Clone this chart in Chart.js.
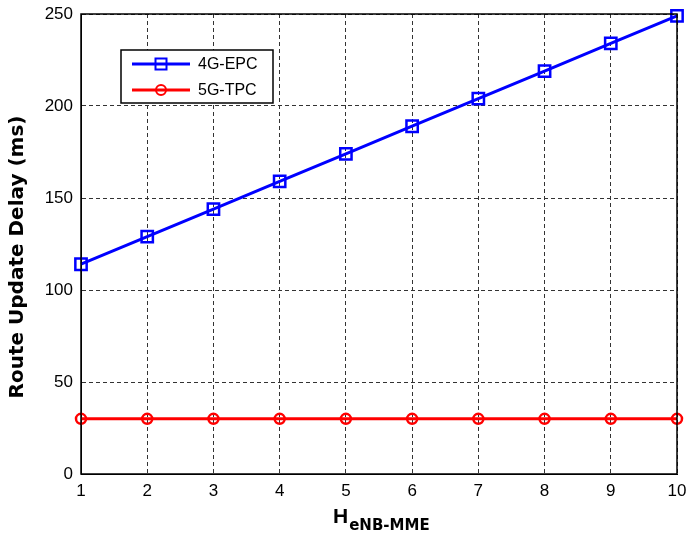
<!DOCTYPE html>
<html><head><meta charset="utf-8">
<script src="https://cdn.jsdelivr.net/npm/chart.js@4.4.1/dist/chart.umd.min.js"></script>
<style>html,body{margin:0;padding:0;background:#fff;}#wrap{width:686px;height:534px;position:relative;}</style>
</head><body><div id="wrap"><canvas id="c" width="686" height="534"></canvas></div>
<script>
const categories = [1,2,3,4,5,6,7,8,9,10];
const epc4g = [114,129,144,159,174,189,204,219,234,249];
const tpc5g = [30,30,30,30,30,30,30,30,30,30];
const yTicks = [0,50,100,150,200,250];
const seriesNames = ['4G-EPC','5G-TPC'];
const yTitle = 'Route Update Delay (ms)';
const xTitleMain = 'H';
const xTitleSub = 'eNB-MME';

const FONT = 'Liberation Sans, Arial, sans-serif';
const TFONT = 'DejaVu Sans, Verdana, sans-serif';

const framePlugin = {
  id:'frame',
  afterDraw(chart){
    const {ctx, chartArea:a} = chart;
    ctx.save();
    ctx.strokeStyle='#000'; ctx.lineWidth=1.5;
    ctx.strokeRect(a.left, a.top, a.right-a.left, a.bottom-a.top);
    // legend
    const lx=121, ly=50, lw=152, lh=53;
    ctx.fillStyle='#fff'; ctx.fillRect(lx,ly,lw,lh);
    ctx.strokeStyle='#000'; ctx.lineWidth=1.5; ctx.strokeRect(lx,ly,lw,lh);
    chart.data.datasets.forEach((ds,i)=>{
      const yy = ly+14+i*26;
      ctx.strokeStyle=ds.borderColor; ctx.lineWidth=3;
      ctx.beginPath(); ctx.moveTo(132,yy); ctx.lineTo(190,yy); ctx.stroke();
      ctx.lineWidth=2;
      if(ds.pointStyle==='rect'){ ctx.strokeRect(161-5.5,yy-5.5,11,11); }
      else { ctx.beginPath(); ctx.arc(161,yy,5,0,Math.PI*2); ctx.stroke(); }
      ctx.fillStyle='#000'; ctx.font='16px '+FONT; ctx.textBaseline='middle'; ctx.textAlign='left';
      ctx.fillText(ds.label, 198, yy+1);
    });
    // y axis title
    ctx.save();
    ctx.translate(23, 257);
    ctx.rotate(-Math.PI/2);
    ctx.fillStyle='#000'; ctx.font='bold 20px '+TFONT; ctx.textAlign='center'; ctx.textBaseline='alphabetic';
    ctx.fillText(yTitle, 0, 0);
    ctx.restore();
    // x axis title with subscript
    ctx.fillStyle='#000'; ctx.textBaseline='alphabetic'; ctx.textAlign='left';
    ctx.font='bold 21px '+FONT;
    const hx=333, hy=523;
    ctx.fillText(xTitleMain, hx, hy);
    const hw=ctx.measureText(xTitleMain).width;
    ctx.font='bold 15px '+TFONT;
    ctx.fillText(xTitleSub, hx+hw+1, hy+7);
    ctx.restore();
  }
};

new Chart(document.getElementById('c'), {
  type:'line',
  data:{
    labels: categories,
    datasets:[
      {label:seriesNames[0], data:epc4g, borderColor:'#0000ff', backgroundColor:'rgba(0,0,0,0)', borderWidth:3, clip:false,
       pointStyle:'rect', pointRadius:8, pointBorderWidth:2.5, pointBackgroundColor:'rgba(0,0,0,0)', pointBorderColor:'#0000ff', tension:0},
      {label:seriesNames[1], data:tpc5g, borderColor:'#ff0000', backgroundColor:'rgba(0,0,0,0)', borderWidth:3, clip:false,
       pointStyle:'circle', pointRadius:5, pointBorderWidth:2.5, pointBackgroundColor:'rgba(0,0,0,0)', pointBorderColor:'#ff0000', tension:0}
    ]
  },
  options:{
    responsive:false, animation:false,
    layout:{autoPadding:false, padding:{left:0,right:9,top:14,bottom:0}},
    plugins:{legend:{display:false}, tooltip:{enabled:false}},
    elements:{point:{hoverRadius:8}},
    scales:{
      x:{type:'linear', min:1, max:10,
        afterBuildTicks(s){ s.ticks = categories.map(v=>({value:v})); },
        afterFit(s){ s.height=60; s.paddingLeft=0; s.paddingRight=0; },
        grid:{color:'#333', lineWidth:1, drawTicks:false},
        border:{display:true, color:'#000', dash:[4,3]},
        ticks:{color:'#000', font:{size:17, family:FONT}, padding:7, maxRotation:0}
      },
      y:{min:0, max:250,
        afterBuildTicks(s){ s.ticks = yTicks.map(v=>({value:v})); },
        afterFit(s){ s.width=81; s.paddingTop=0; s.paddingBottom=0; },
        grid:{color:'#333', lineWidth:1, drawTicks:false},
        border:{display:true, color:'#000', dash:[4,3]},
        ticks:{color:'#000', font:{size:17, family:FONT}, padding:8}
      }
    }
  },
  plugins:[framePlugin]
});
</script></body></html>
